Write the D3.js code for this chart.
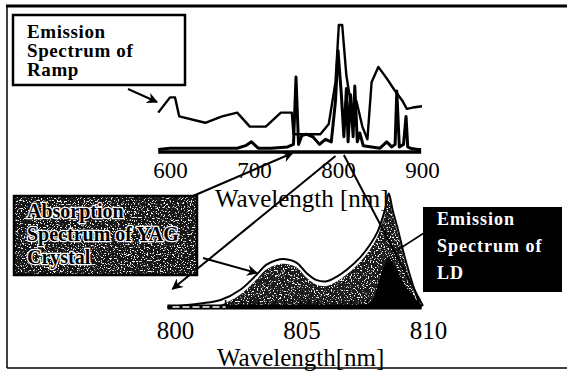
<!DOCTYPE html>
<html><head><meta charset="utf-8">
<script src="https://cdn.jsdelivr.net/npm/d3@7"></script>
<style>html,body{margin:0;padding:0;background:#fff;} svg{display:block;}</style>
</head><body><svg id="c" width="567" height="371"></svg>
<script>
// ---------- data ----------
const upperTicks = [600, 700, 800, 900];
const lowerTicks = [800, 805, 810];
// lamp emission spectrum (upper panel, relative intensity)
const lampWl  = [586, 600, 606, 611, 642, 662, 680, 695, 714, 732, 745, 747, 760, 779, 789, 797, 801, 805, 810, 816, 822, 829, 835, 840, 848, 858, 867, 876, 882, 889, 900];
const lampVal = [31, 43, 43, 28, 23, 28, 31, 20, 20, 31, 31, 14, 14, 14, 22, 55, 100, 100, 60, 35, 40, 20, 10, 55, 67, 58, 49, 41, 34, 35, 36];
// YAG absorption spectrum (upper panel)
const yagUpWl  = [586, 600, 640, 680, 690, 697, 705, 720, 740, 747, 750, 753, 757, 762, 770, 778, 785, 792, 797, 800, 804, 807, 810, 812, 815, 818, 820, 823, 826, 830, 840, 850, 858, 864, 868, 870, 873, 878, 881, 883, 886, 895, 899];
const yagUpVal = [2, 3, 3, 3, 5, 8, 3, 3, 4, 6, 59, 6, 13, 14, 12, 6, 10, 8, 40, 80, 45, 12, 50, 8, 45, 12, 52, 8, 15, 5, 4, 3, 8, 4, 6, 48, 4, 6, 28, 4, 3, 2, 2];
// YAG absorption spectrum (lower panel, 800-810 nm)
const yagLowWl  = [799.7, 801.0, 801.8, 802.6, 803.2, 803.6, 804.0, 804.3, 804.8, 805.2, 805.6, 806.0, 806.4, 806.8, 807.3, 807.7, 808.0, 808.3, 808.45, 808.6, 808.8, 809.1, 809.4, 809.6, 809.7];
const yagLowVal = [0, 3, 6, 15, 27, 36, 40, 41, 38, 29, 23, 22, 26, 32, 42, 53, 64, 83, 97, 83, 67, 41, 19, 6, 0];
// LD emission spectrum (lower panel)
const ldWl  = [807.6, 807.9, 808.2, 808.45, 808.7, 809.1, 809.5, 809.75];
const ldVal = [0, 8, 30, 42, 33, 17, 6, 0];

const ramLabel = ["Emission", "Spectrum of", "Ramp"];
const yagLabel = ["Absorption", "Spectrum of YAG", "Crystal"];
const ldLabel  = ["Emission", "Spectrum of", "LD"];
const axisTitleUp = "Wavelength [nm]";
const axisTitleLow = "Wavelength[nm]";

// ---------- setup ----------
const svg = d3.select("#c");
const defs = svg.append("defs");
const serif = "'Liberation Serif','Times New Roman',serif";

const f = defs.append("filter").attr("id", "stip")
  .attr("x", 0).attr("y", 0).attr("width", 1).attr("height", 1);
f.append("feTurbulence").attr("type", "fractalNoise").attr("baseFrequency", 0.7)
  .attr("numOctaves", 2).attr("seed", 7).attr("result", "n");
f.append("feColorMatrix").attr("in", "n").attr("type", "matrix")
  .attr("values", "0 0 0 0 1  0 0 0 0 1  0 0 0 0 1  -10 0 0 0 4.1").attr("result", "sp");
f.append("feComposite").attr("in", "sp").attr("in2", "SourceGraphic").attr("operator", "in").attr("result", "sp2");
const fm = f.append("feMerge");
fm.append("feMergeNode").attr("in", "SourceGraphic");
fm.append("feMergeNode").attr("in", "sp2");

defs.append("marker").attr("id", "ah").attr("viewBox", "0 0 10 10")
  .attr("refX", 9).attr("refY", 5).attr("markerWidth", 13).attr("markerHeight", 11)
  .attr("markerUnits", "userSpaceOnUse").attr("orient", "auto")
  .append("path").attr("d", "M0,0 L10,5 L0,10 L3,5 Z").attr("fill", "#000");

// ---------- frame ----------
svg.append("line").attr("x1", 6).attr("x2", 567).attr("y1", 6).attr("y2", 6).attr("stroke", "#000").attr("stroke-width", 3);
svg.append("line").attr("x1", 7).attr("x2", 7).attr("y1", 6).attr("y2", 368).attr("stroke", "#000").attr("stroke-width", 1.5);
svg.append("line").attr("x1", 7).attr("x2", 567).attr("y1", 368).attr("y2", 368).attr("stroke", "#000").attr("stroke-width", 1.5);

// ---------- upper panel ----------
const xU = d3.scaleLinear().domain([600, 900]).range([170, 422]);
const yU = d3.scaleLinear().domain([0, 100]).range([152, 25]);

const lineU = d3.line().x(d => xU(d[0])).y(d => yU(d[1]));
svg.append("path").datum(d3.zip(yagUpWl, yagUpVal)).attr("d", lineU)
  .attr("fill", "none").attr("stroke", "#000").attr("stroke-width", 3).attr("stroke-linejoin", "round");
svg.append("path").datum(d3.zip(lampWl, lampVal)).attr("d", lineU)
  .attr("fill", "none").attr("stroke", "#000").attr("stroke-width", 2.4).attr("stroke-linejoin", "round");

svg.append("line").attr("x1", xU(586)).attr("x2", xU(899)).attr("y1", 152).attr("y2", 152)
  .attr("stroke", "#000").attr("stroke-width", 3.5);

const axU = svg.append("g").attr("transform", "translate(0,152)")
  .call(d3.axisBottom(xU).tickValues(upperTicks).tickSize(0).tickPadding(10).tickFormat(d3.format("d")));
axU.select(".domain").remove();
axU.selectAll("text").attr("font-family", serif).attr("font-size", 23).attr("fill", "#000");

svg.append("text").attr("x", 215).attr("y", 207).attr("font-family", serif).attr("font-size", 25)
  .text(axisTitleUp);

// ---------- lower panel ----------
const xL = d3.scaleLinear().domain([800, 810]).range([175, 428]);
const yL = d3.scaleLinear().domain([0, 100]).range([307, 190]);

const areaL = d3.area().x(d => xL(d[0])).y0(yL(0)).y1(d => yL(d[1])).curve(d3.curveCatmullRom.alpha(0.5));
const lineL = d3.line().x(d => xL(d[0])).y(d => yL(d[1])).curve(d3.curveCatmullRom.alpha(0.5));

svg.append("path").datum(d3.zip(yagLowWl, yagLowVal).map(d => [d[0], Math.max(0, d[1] - 4)]))
  .attr("d", areaL).attr("fill", "#1a1a1a").attr("filter", "url(#stip)");
svg.append("path").datum(d3.zip(yagLowWl, yagLowVal)).attr("d", lineL)
  .attr("fill", "none").attr("stroke", "#000").attr("stroke-width", 2);

const areaLD = d3.area().x(d => xL(d[0])).y0(yL(0)).y1(d => yL(d[1]));
svg.append("path").datum(d3.zip(ldWl, ldVal)).attr("d", areaLD).attr("fill", "#000");
svg.append("path").datum(d3.zip(ldWl, ldVal)).attr("d", d3.line().x(d => xL(d[0])).y(d => yL(d[1])))
  .attr("fill", "none").attr("stroke", "#000").attr("stroke-width", 1.5);

// ruler-like baseline
svg.append("line").attr("x1", xL(799.7)).attr("x2", xL(809.75)).attr("y1", 307).attr("y2", 307)
  .attr("stroke", "#000").attr("stroke-width", 5);
svg.append("line").attr("x1", xL(799.9)).attr("x2", xL(802.0)).attr("y1", 307).attr("y2", 307)
  .attr("stroke", "#fff").attr("stroke-width", 1.6).attr("stroke-dasharray", "7,3");
svg.append("g").selectAll("line").data(d3.range(802.0, 809.7, 0.33)).join("line")
  .attr("x1", d => xL(d)).attr("x2", d => xL(d)).attr("y1", 305).attr("y2", 300)
  .attr("stroke", "#000").attr("stroke-width", 1.5);

const axL = svg.append("g").attr("transform", "translate(0,307)")
  .call(d3.axisBottom(xL).tickValues(lowerTicks).tickSize(0).tickPadding(14).tickFormat(d3.format("d")));
axL.select(".domain").remove();
axL.selectAll("text").attr("font-family", serif).attr("font-size", 25).attr("fill", "#000");

svg.append("text").attr("x", 217).attr("y", 366).attr("font-family", serif).attr("font-size", 25)
  .text(axisTitleLow);

// ---------- zoom connector lines ----------
svg.append("line").attr("x1", xU(797)).attr("y1", 156).attr("x2", xL(799.9)).attr("y2", 289)
  .attr("stroke", "#000").attr("stroke-width", 2).attr("marker-end", "url(#ah)");
svg.append("line").attr("x1", xU(807)).attr("y1", 155).attr("x2", xL(809.8)).attr("y2", 306)
  .attr("stroke", "#000").attr("stroke-width", 2);

// ---------- Ramp label ----------
svg.append("rect").attr("x", 13).attr("y", 15).attr("width", 172).attr("height", 70)
  .attr("fill", "#fff").attr("stroke", "#000").attr("stroke-width", 2.5);
svg.append("g").selectAll("text").data(ramLabel).join("text")
  .attr("x", 27).attr("y", (d, i) => 38 + i * 19)
  .attr("font-family", serif).attr("font-weight", "bold").attr("font-size", 19)
  .attr("letter-spacing", 0.6).text(d => d);
svg.append("line").attr("x1", 128).attr("y1", 89).attr("x2", 157).attr("y2", 102)
  .attr("stroke", "#000").attr("stroke-width", 2).attr("marker-end", "url(#ah)");

// ---------- YAG label ----------
svg.append("rect").attr("x", 14).attr("y", 196).attr("width", 183).attr("height", 79)
  .attr("fill", "#141414").attr("filter", "url(#stip)");
svg.append("rect").attr("x", 14).attr("y", 196).attr("width", 183).attr("height", 79)
  .attr("fill", "none").attr("stroke", "#000").attr("stroke-width", 2.5);
svg.append("g").selectAll("text").data(yagLabel).join("text")
  .attr("x", 27).attr("y", (d, i) => 218 + i * 23)
  .attr("font-family", serif).attr("font-weight", "bold").attr("font-size", 20)
  .attr("fill", "#000").attr("stroke", "#fff").attr("stroke-width", 2.4)
  .attr("paint-order", "stroke").text(d => d);
svg.append("line").attr("x1", 193).attr("y1", 196).attr("x2", xU(746)).attr("y2", 153)
  .attr("stroke", "#000").attr("stroke-width", 2).attr("marker-end", "url(#ah)");
svg.append("line").attr("x1", 203).attr("y1", 258).attr("x2", 257).attr("y2", 273)
  .attr("stroke", "#000").attr("stroke-width", 2).attr("marker-end", "url(#ah)");

// ---------- LD label ----------
svg.append("rect").attr("x", 423).attr("y", 207).attr("width", 139).attr("height", 85).attr("fill", "#000");
svg.append("g").selectAll("text").data(ldLabel).join("text")
  .attr("x", 437).attr("y", (d, i) => 225 + i * 27)
  .attr("font-family", serif).attr("font-weight", "bold").attr("font-size", 18)
  .attr("letter-spacing", 1).attr("fill", "#fff").text(d => d);
svg.append("line").attr("x1", 424).attr("y1", 233).attr("x2", 396).attr("y2", 251)
  .attr("stroke", "#000").attr("stroke-width", 1.5);
</script></body></html>
